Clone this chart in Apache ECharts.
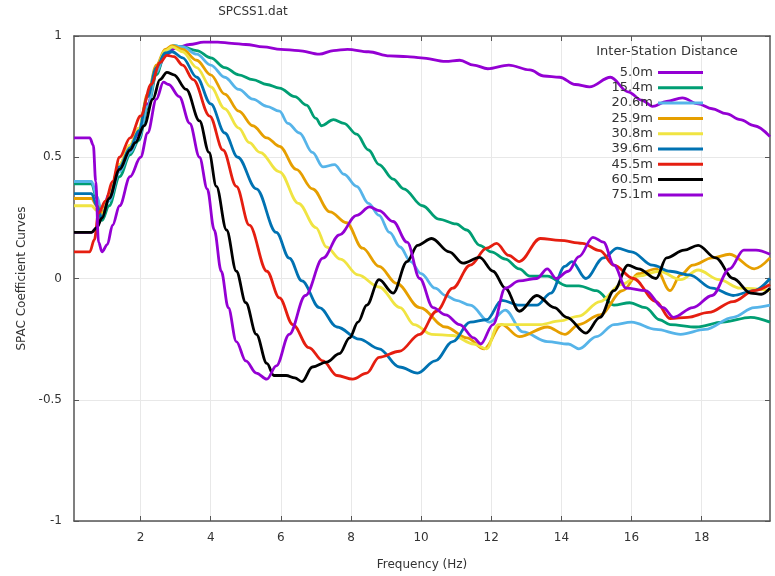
<!DOCTYPE html>
<html>
<head>
<meta charset="utf-8">
<script src="https://cdn.jsdelivr.net/npm/echarts@6/dist/echarts.min.js"></script>
<style>
  html, body { margin: 0; padding: 0; background: #fff; }
  #chart { width: 775px; height: 576px; }
</style>
</head>
<body>
<div id="chart"></div>
<script>
// frequency ticks (Hz) and distances
const xTicks = [2, 4, 6, 8, 10, 12, 14, 16, 18];
const distances = ['5.0m', '15.4m', '20.6m', '25.9m', '30.8m', '39.6m', '45.5m', '60.5m', '75.1m'];

// [frequency, SPAC coefficient]
const d5_0 = [[0.1,0.19],[0.6,0.19],[0.75,0.21],[0.9,0.27],[1.1,0.35],[1.4,0.46],[1.7,0.54],[1.95,0.6],[2.2,0.72],[2.45,0.85],[2.7,0.92],[3.0,0.95],[3.4,0.965],[3.8,0.975],[4.2,0.975],[4.6,0.97],[5.0,0.965],[5.5,0.955],[6.0,0.945],[6.5,0.94],[7.1,0.925],[7.5,0.94],[7.9,0.945],[8.5,0.935],[9.1,0.918],[9.6,0.915],[10.0,0.91],[10.7,0.895],[11.1,0.9],[11.5,0.88],[11.9,0.865],[12.5,0.88],[13.1,0.86],[13.5,0.835],[13.95,0.83],[14.4,0.8],[14.8,0.79],[15.4,0.83],[15.9,0.77],[16.3,0.735],[16.6,0.71],[17.0,0.73],[17.45,0.745],[17.9,0.72],[18.3,0.70],[18.7,0.68],[19.1,0.655],[19.5,0.63],[19.95,0.585]];
const d15_4 = [[0.1,0.39],[0.6,0.39],[0.75,0.33],[0.9,0.24],[1.1,0.30],[1.4,0.42],[1.7,0.51],[1.95,0.57],[2.2,0.7],[2.45,0.84],[2.7,0.93],[2.95,0.96],[3.2,0.955],[3.6,0.94],[4.0,0.91],[4.4,0.87],[4.8,0.84],[5.2,0.82],[5.6,0.8],[5.96,0.785],[6.4,0.75],[6.73,0.715],[7.0,0.66],[7.16,0.63],[7.5,0.655],[7.8,0.64],[8.16,0.595],[8.5,0.53],[8.8,0.47],[9.2,0.41],[9.5,0.37],[10.04,0.30],[10.5,0.245],[11.0,0.225],[11.3,0.2],[11.67,0.137],[12.0,0.11],[12.4,0.08],[12.8,0.04],[13.1,0.01],[13.6,0.01],[14.15,-0.03],[14.5,-0.03],[15.0,-0.05],[15.5,-0.11],[15.95,-0.1],[16.4,-0.12],[16.8,-0.17],[17.1,-0.19],[17.85,-0.2],[18.6,-0.18],[19.4,-0.16],[19.95,-0.18]];
const d20_6 = [[0.1,0.40],[0.6,0.40],[0.75,0.34],[0.9,0.27],[1.1,0.32],[1.4,0.44],[1.7,0.52],[1.95,0.58],[2.2,0.71],[2.45,0.85],[2.7,0.935],[2.95,0.96],[3.2,0.955],[3.6,0.925],[4.0,0.88],[4.4,0.83],[4.8,0.78],[5.2,0.74],[5.6,0.71],[5.96,0.69],[6.2,0.64],[6.53,0.6],[6.9,0.52],[7.2,0.46],[7.53,0.47],[7.8,0.43],[8.16,0.38],[8.5,0.31],[8.8,0.26],[9.1,0.19],[9.4,0.13],[9.7,0.07],[10.0,0.02],[10.4,-0.04],[10.7,-0.07],[11.0,-0.09],[11.4,-0.11],[11.95,-0.18],[12.4,-0.13],[12.9,-0.22],[13.6,-0.26],[14.2,-0.27],[14.5,-0.29],[15.0,-0.24],[15.5,-0.19],[16.0,-0.18],[16.7,-0.21],[17.4,-0.23],[18.1,-0.21],[18.9,-0.16],[19.5,-0.12],[19.95,-0.11]];
const d25_9 = [[0.1,0.33],[0.6,0.33],[0.75,0.3],[0.9,0.27],[1.1,0.34],[1.4,0.47],[1.7,0.55],[1.95,0.62],[2.2,0.76],[2.45,0.88],[2.7,0.945],[2.9,0.96],[3.2,0.945],[3.6,0.9],[4.0,0.84],[4.4,0.76],[4.8,0.69],[5.2,0.63],[5.6,0.58],[5.96,0.545],[6.44,0.45],[6.9,0.37],[7.4,0.275],[7.87,0.23],[8.33,0.125],[8.8,0.05],[9.3,-0.02],[9.96,-0.12],[10.7,-0.2],[11.3,-0.245],[11.8,-0.29],[12.3,-0.19],[12.8,-0.24],[13.6,-0.2],[14.1,-0.23],[14.5,-0.19],[15.1,-0.15],[15.75,-0.05],[16.2,0.02],[16.7,0.04],[17.1,-0.05],[17.4,0.015],[17.75,0.055],[18.3,0.085],[18.8,0.10],[19.5,0.04],[19.95,0.085]];
const d30_8 = [[0.1,0.30],[0.6,0.30],[0.75,0.28],[0.9,0.26],[1.1,0.34],[1.4,0.47],[1.7,0.55],[1.95,0.62],[2.2,0.75],[2.45,0.87],[2.7,0.94],[2.9,0.955],[3.2,0.935],[3.6,0.87],[4.0,0.79],[4.4,0.7],[4.8,0.62],[5.1,0.56],[5.4,0.52],[5.96,0.44],[6.5,0.31],[7.0,0.21],[7.3,0.13],[7.7,0.08],[8.2,0.015],[8.8,-0.035],[9.4,-0.12],[9.8,-0.19],[10.3,-0.23],[10.9,-0.235],[11.5,-0.27],[11.87,-0.29],[12.2,-0.19],[12.8,-0.19],[13.4,-0.19],[13.95,-0.175],[14.5,-0.155],[15.1,-0.095],[15.7,-0.025],[16.2,0.01],[16.8,0.03],[17.4,-0.005],[17.9,0.035],[18.5,-0.005],[19.1,-0.04],[19.95,-0.05]];
const d39_6 = [[0.1,0.35],[0.6,0.35],[0.75,0.3],[0.9,0.25],[1.1,0.33],[1.4,0.46],[1.7,0.54],[1.95,0.61],[2.2,0.75],[2.45,0.87],[2.7,0.93],[2.9,0.935],[3.2,0.91],[3.6,0.83],[4.0,0.72],[4.4,0.6],[4.77,0.5],[5.3,0.37],[5.87,0.19],[6.24,0.084],[6.6,-0.01],[7.1,-0.12],[7.6,-0.2],[8.24,-0.25],[8.8,-0.29],[9.38,-0.365],[9.9,-0.39],[10.4,-0.34],[10.9,-0.26],[11.4,-0.18],[11.87,-0.17],[12.3,-0.09],[12.8,-0.11],[13.3,-0.11],[13.7,-0.06],[14.1,0.05],[14.3,0.07],[14.7,0.0],[15.2,0.085],[15.6,0.125],[16.0,0.11],[16.6,0.055],[17.1,0.03],[17.65,0.015],[18.3,-0.04],[18.9,-0.07],[19.5,-0.05],[19.95,0.0]];
const d45_5 = [[0.1,0.11],[0.55,0.11],[0.68,0.16],[0.8,0.27],[1.0,0.32],[1.2,0.40],[1.4,0.50],[1.7,0.58],[2.0,0.67],[2.3,0.80],[2.55,0.89],[2.75,0.92],[2.95,0.915],[3.2,0.88],[3.5,0.82],[3.97,0.67],[4.35,0.53],[4.73,0.38],[5.1,0.22],[5.6,0.03],[5.96,-0.08],[6.34,-0.19],[6.8,-0.285],[7.2,-0.34],[7.6,-0.4],[8.05,-0.415],[8.45,-0.39],[8.8,-0.325],[9.38,-0.3],[9.96,-0.23],[10.44,-0.135],[10.9,-0.04],[11.4,0.055],[11.87,0.125],[12.15,0.145],[12.5,0.095],[12.8,0.07],[13.4,0.165],[13.95,0.157],[14.6,0.145],[15.1,0.115],[15.5,0.055],[16.05,0.0],[16.7,-0.095],[17.1,-0.165],[17.6,-0.16],[18.2,-0.14],[18.9,-0.095],[19.5,-0.05],[19.95,-0.025]];
const d60_5 = [[0.1,0.19],[0.6,0.19],[0.75,0.21],[0.9,0.25],[1.1,0.33],[1.4,0.45],[1.7,0.53],[1.85,0.56],[2.1,0.63],[2.35,0.74],[2.55,0.82],[2.75,0.85],[2.95,0.84],[3.3,0.78],[3.68,0.65],[3.95,0.52],[4.16,0.38],[4.45,0.2],[4.73,0.03],[5.0,-0.1],[5.3,-0.23],[5.6,-0.35],[5.8,-0.4],[6.15,-0.4],[6.4,-0.41],[6.6,-0.425],[6.9,-0.365],[7.3,-0.345],[7.67,-0.31],[7.96,-0.245],[8.2,-0.18],[8.45,-0.11],[8.8,-0.005],[9.2,-0.06],[9.6,0.07],[9.9,0.137],[10.3,0.165],[10.8,0.11],[11.2,0.063],[11.67,0.087],[12.05,0.03],[12.4,-0.04],[12.8,-0.135],[13.3,-0.07],[13.8,-0.12],[14.15,-0.16],[14.7,-0.225],[15.1,-0.16],[15.5,-0.05],[15.9,0.055],[16.2,0.04],[16.7,0.0],[17.0,0.085],[17.5,0.117],[17.9,0.137],[18.4,0.085],[18.9,0.0],[19.4,-0.06],[19.7,-0.065],[19.95,-0.04]];
const d75_1 = [[0.1,0.58],[0.55,0.58],[0.65,0.55],[0.72,0.4],[0.8,0.15],[0.9,0.11],[1.05,0.14],[1.2,0.22],[1.4,0.3],[1.7,0.42],[2.0,0.5],[2.2,0.6],[2.45,0.74],[2.65,0.81],[2.8,0.8],[3.1,0.75],[3.4,0.64],[3.68,0.5],[3.9,0.37],[4.1,0.2],[4.3,0.03],[4.5,-0.12],[4.73,-0.26],[5.0,-0.34],[5.3,-0.39],[5.6,-0.415],[5.87,-0.36],[6.24,-0.23],[6.7,-0.07],[7.2,0.084],[7.67,0.18],[8.16,0.26],[8.53,0.295],[8.8,0.28],[9.2,0.235],[9.6,0.15],[9.96,0.0],[10.34,-0.12],[10.7,-0.15],[11.1,-0.19],[11.5,-0.245],[11.7,-0.27],[12.05,-0.19],[12.4,-0.04],[12.8,-0.01],[13.3,0.0],[13.6,0.04],[13.85,0.0],[14.2,0.03],[14.5,0.09],[14.9,0.17],[15.2,0.15],[15.5,0.055],[15.85,-0.04],[16.4,-0.05],[16.9,-0.12],[17.2,-0.16],[17.75,-0.12],[18.3,-0.07],[18.8,0.04],[19.2,0.117],[19.55,0.117],[19.95,0.1]];

const curves = [d5_0, d15_4, d20_6, d25_9, d30_8, d39_6, d45_5, d60_5, d75_1];
const colors = ['#9400d3', '#009e73', '#56b4e9', '#e69f00', '#f0e442', '#0072b2', '#e51e10', '#000000', '#9400d3'];

const FONT = 'DejaVu Sans';
const TXT = '#333';
const FRAME = '#555';

const chart = echarts.init(document.getElementById('chart'), null, { renderer: 'canvas' });

const xBase = {
  type: 'value', min: 0.1, max: 19.95, gridIndex: 0,
  axisLine: { show: true, onZero: false, lineStyle: { color: FRAME, width: 1.5 } },
  axisTick: { show: true, inside: true, length: 5, customValues: xTicks, lineStyle: { color: FRAME } },
  splitLine: { show: false }
};
const yBase = {
  type: 'value', min: -1, max: 1, interval: 0.5,
  axisLine: { show: true, lineStyle: { color: FRAME, width: 1.5 } },
  axisTick: { show: true, inside: true, length: 5, lineStyle: { color: FRAME } },
  splitLine: { show: false }
};

chart.setOption({
  animation: false,
  backgroundColor: '#fff',
  color: colors,
  grid: { left: 74, right: 5, top: 36, bottom: 51, containLabel: false },
  graphic: [
    { type: 'text', x: 253, y: 12, style: { text: 'SPCSS1.dat', font: '12px ' + FONT, fill: TXT, align: 'center', verticalAlign: 'middle', textAlign: 'center', textVerticalAlign: 'middle' } },
    { type: 'text', x: 667, y: 52, style: { text: 'Inter-Station Distance', font: '13px ' + FONT, fill: TXT, align: 'center', verticalAlign: 'middle', textAlign: 'center', textVerticalAlign: 'middle' } }
  ],
  legend: {
    data: distances.map(n => ({ name: n, icon: 'rect' })),
    orient: 'vertical',
    align: 'right',
    left: 600, top: 61,
    itemWidth: 45, itemHeight: 3, itemGap: 2.3,
    formatter: name => '{a|' + name + '}',
    textStyle: {
      rich: { a: { width: 48, align: 'right', fontFamily: FONT, fontSize: 13, color: TXT, lineHeight: 14 } }
    }
  },
  xAxis: [
    Object.assign({}, xBase, {
      position: 'bottom',
      name: 'Frequency (Hz)', nameLocation: 'middle', nameGap: 38,
      nameTextStyle: { fontFamily: FONT, fontSize: 12, color: TXT },
      axisLabel: { customValues: xTicks, margin: 11, fontFamily: FONT, fontSize: 12, color: TXT },
      splitLine: { show: true, lineStyle: { color: '#e8e8e8', width: 1 } }
    }),
    Object.assign({}, xBase, { position: 'top', axisLabel: { show: false } })
  ],
  yAxis: [
    Object.assign({}, yBase, {
      position: 'left',
      name: 'SPAC Coefficient Curves', nameLocation: 'middle', nameGap: 44,
      nameTextStyle: { fontFamily: FONT, fontSize: 12, color: TXT },
      axisLabel: { margin: 12, fontFamily: FONT, fontSize: 12, color: TXT },
      splitLine: { show: true, lineStyle: { color: '#e8e8e8', width: 1 } }
    }),
    Object.assign({}, yBase, { position: 'right', axisLabel: { show: false } })
  ],
  series: curves.map((c, i) => ({
    name: distances[i],
    type: 'line',
    data: c,
    xAxisIndex: 0,
    yAxisIndex: 0,
    symbol: 'none',
    showSymbol: false,
    smooth: 0.35,
    smoothMonotone: 'x',
    clip: true,
    lineStyle: { width: 2.8, color: colors[i] },
    itemStyle: { color: colors[i] }
  }))
});
</script>
</body>
</html>
